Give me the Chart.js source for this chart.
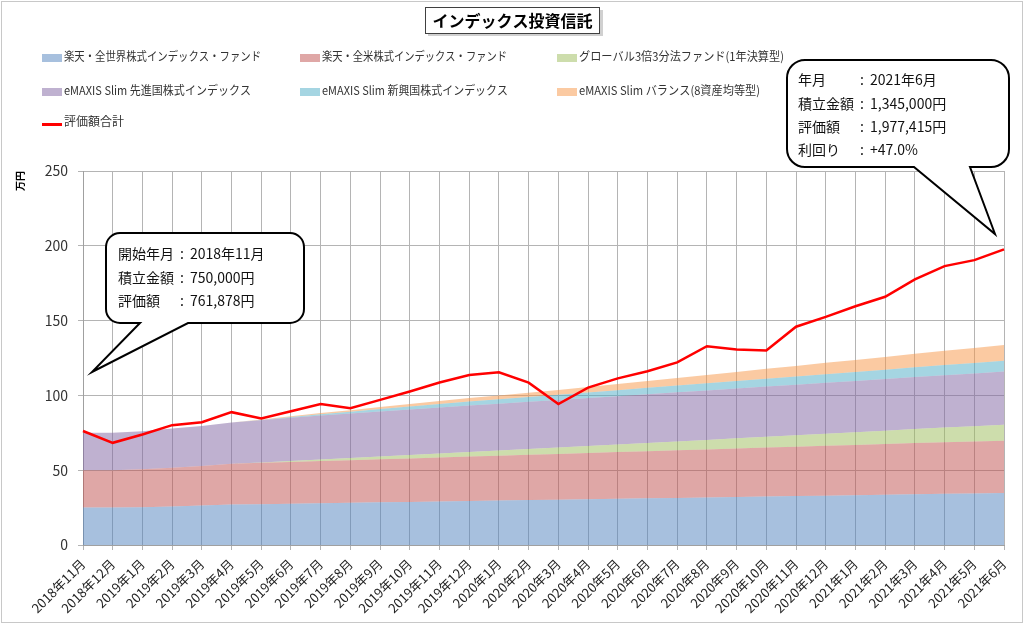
<!DOCTYPE html>
<html lang="ja">
<head>
<meta charset="utf-8">
<title>インデックス投資信託</title>
<script src="https://cdn.jsdelivr.net/npm/chart.js@4.4.1/dist/chart.umd.min.js"></script>
<style>
  html, body { margin: 0; padding: 0; background: #fff; }
  #wrap { width: 1024px; height: 625px; position: relative; }
</style>
</head>
<body>
<div id="wrap"><canvas id="fundChart" width="1024" height="625"></canvas></div>
<script>
/* ===== データ (単位: 万円) ===== */
const months = [
    '2018年11月', '2018年12月', '2019年1月', '2019年2月', '2019年3月', '2019年4月',
    '2019年5月', '2019年6月', '2019年7月', '2019年8月', '2019年9月', '2019年10月',
    '2019年11月', '2019年12月', '2020年1月', '2020年2月', '2020年3月', '2020年4月',
    '2020年5月', '2020年6月', '2020年7月', '2020年8月', '2020年9月', '2020年10月',
    '2020年11月', '2020年12月', '2021年1月', '2021年2月', '2021年3月', '2021年4月',
    '2021年5月', '2021年6月'
];

const rakutenWorld = [25.0, 25.0, 25.3, 25.8, 26.4, 27.0, 27.3, 27.6, 27.9, 28.2, 28.5, 28.8, 29.1, 29.4, 29.7, 30.0,
                      30.3, 30.6, 30.9, 31.2, 31.5, 31.8, 32.1, 32.4, 32.7, 33.0, 33.3, 33.6, 33.9, 34.2, 34.5, 34.8];
const rakutenUS    = [25.0, 25.0, 25.3, 25.8, 26.4, 27.3, 27.6, 27.9, 28.2, 28.5, 28.8, 29.1, 29.4, 29.7, 30.0, 30.3,
                      30.6, 30.9, 31.2, 31.5, 31.8, 32.1, 32.4, 32.7, 33.0, 33.3, 33.6, 33.9, 34.2, 34.5, 34.7, 34.9];
const global3x     = [0, 0, 0, 0, 0, 0, 0.3, 0.7, 1.0, 1.4, 1.8, 2.2, 2.6, 3.0, 3.4, 3.8,
                      4.2, 4.6, 5.0, 5.5, 5.9, 6.3, 6.8, 7.2, 7.6, 8.0, 8.5, 8.9, 9.4, 9.8, 10.2, 10.7];
const slimDeveloped = [25.0, 25.0, 25.4, 26.2, 26.8, 27.6, 28.2, 28.8, 29.4, 29.8, 30.2, 30.5, 30.8, 31.1, 31.3, 31.6,
                      31.9, 32.1, 32.4, 32.6, 32.9, 33.1, 33.3, 33.6, 33.8, 34.1, 34.3, 34.5, 34.8, 35.0, 35.3, 35.5];
const slimEmerging = [0, 0, 0, 0, 0, 0, 0.2, 0.5, 0.9, 1.2, 1.6, 2.0, 2.4, 2.8, 3.1, 3.3,
                      3.5, 3.8, 4.0, 4.3, 4.5, 4.8, 5.0, 5.3, 5.5, 5.8, 6.0, 6.3, 6.5, 6.8, 7.0, 7.3];
const slimBalance  = [0, 0, 0, 0, 0, 0, 0.3, 0.5, 0.8, 1.0, 1.3, 1.6, 1.9, 2.2, 2.5, 2.8,
                      3.1, 3.6, 4.1, 4.6, 5.1, 5.6, 6.1, 6.6, 7.1, 7.6, 8.0, 8.5, 9.0, 9.5, 10.0, 10.5];
const totalValue   = [76.2, 68.3, 73.9, 80.1, 82.1, 88.8, 84.5, 89.4, 94.3, 91.5, 97.0, 102.6, 108.6, 113.6, 115.4, 108.5,
                      94.2, 105.2, 111.4, 116.1, 122.1, 132.9, 130.7, 130.0, 145.9, 152.5, 159.6, 165.9, 177.5, 186.4, 190.4, 197.6];

const fundLabels = [
    '楽天・全世界株式インデックス・ファンド',
    '楽天・全米株式インデックス・ファンド',
    'グローバル3倍3分法ファンド(1年決算型)',
    'eMAXIS Slim 先進国株式インデックス',
    'eMAXIS Slim 新興国株式インデックス',
    'eMAXIS Slim バランス(8資産均等型)'
];
const totalLabel = '評価額合計';
const yTicks = [0, 50, 100, 150, 200, 250];

const startNote = [['開始年月', '2018年11月'], ['積立金額', '750,000円'], ['評価額', '761,878円']];
const endNote = [['年月', '2021年6月'], ['積立金額', '1,345,000円'], ['評価額', '1,977,415円'], ['利回り', '+47.0%']];

/* ===== スタイル ===== */
const JP = '"Noto Sans CJK JP", "Noto Sans", sans-serif';
const fundColors = [
    'rgba(79, 129, 189, 0.5)',
    'rgba(192, 80, 77, 0.5)',
    'rgba(155, 187, 89, 0.5)',
    'rgba(128, 100, 162, 0.5)',
    'rgba(75, 172, 198, 0.5)',
    'rgba(247, 150, 70, 0.5)'
];
const fundSeries = [rakutenWorld, rakutenUS, global3x, slimDeveloped, slimEmerging, slimBalance];
const GRID = '#b4b4b4';

const datasets = fundSeries.map((vals, i) => ({
    label: fundLabels[i],
    data: vals,
    stack: 'funds',
    fill: i === 0 ? 'origin' : '-1',
    backgroundColor: fundColors[i],
    borderColor: 'rgba(0,0,0,0)',
    borderWidth: 0,
    pointRadius: 0,
    tension: 0,
    order: 0
}));
datasets.push({
    label: totalLabel,
    data: totalValue,
    stack: 'total',
    fill: false,
    borderColor: '#ff0000',
    borderWidth: 2.5,
    pointRadius: 0,
    tension: 0,
    order: -1
});

/* ===== 吹き出し ===== */
function bubble(ctx, l, t, r, b, rad, tailA, tailB, tip) {
    ctx.beginPath();
    ctx.moveTo(l + rad, t);
    ctx.lineTo(r - rad, t);
    ctx.arcTo(r, t, r, t + rad, rad);
    ctx.lineTo(r, b - rad);
    ctx.arcTo(r, b, r - rad, b, rad);
    ctx.lineTo(tailB, b);
    ctx.lineTo(tip[0], tip[1]);
    ctx.lineTo(tailA, b);
    ctx.lineTo(l + rad, b);
    ctx.arcTo(l, b, l, b - rad, rad);
    ctx.lineTo(l, t + rad);
    ctx.arcTo(l, t, l + rad, t, rad);
    ctx.closePath();
    ctx.fillStyle = '#ffffff';
    ctx.fill();
    ctx.lineWidth = 2;
    ctx.strokeStyle = '#000000';
    ctx.stroke();
}

function noteText(ctx, rows, x, colonX, valX, y0, gap) {
    ctx.font = '14px ' + JP;
    ctx.fillStyle = '#111111';
    ctx.textAlign = 'left';
    ctx.textBaseline = 'middle';
    rows.forEach((row, i) => {
        const y = y0 + i * gap;
        ctx.fillText(row[0], x, y);
        ctx.fillText(':', colonX, y);
        ctx.fillText(row[1], valX, y);
    });
}

const decorPlugin = {
    id: 'decor',
    afterDraw(chart) {
        const ctx = chart.ctx;
        ctx.save();

        // 外枠
        ctx.strokeStyle = '#c8c8c8';
        ctx.lineWidth = 1;
        ctx.strokeRect(1.5, 1.5, 1021, 621);

        // タイトル
        ctx.fillStyle = '#d0d0d0';
        ctx.fillRect(428, 10, 175, 26);
        ctx.fillStyle = '#ffffff';
        ctx.fillRect(425.5, 7.5, 174, 26);
        ctx.strokeStyle = '#404040';
        ctx.strokeRect(425.5, 7.5, 174, 26);
        ctx.fillStyle = '#000000';
        ctx.font = 'bold 16px ' + JP;
        ctx.textAlign = 'center';
        ctx.textBaseline = 'middle';
        ctx.fillText('インデックス投資信託', 512.5, 21, 166);

        // 凡例
        const cols = [42, 300, 557];
        const rows = [56, 90, 121];
        const widths = [197, 185, 205, 187, 186, 181, 60];
        ctx.font = '12px ' + JP;
        ctx.textAlign = 'left';
        chart.data.datasets.forEach((ds, i) => {
            const x = cols[i % 3];
            const y = rows[Math.floor(i / 3)];
            if (ds.stack === 'total') {
                ctx.strokeStyle = ds.borderColor;
                ctx.lineWidth = 3;
                ctx.beginPath();
                ctx.moveTo(x, y + 3.5);
                ctx.lineTo(x + 20, y + 3.5);
                ctx.stroke();
            } else {
                ctx.fillStyle = ds.backgroundColor;
                ctx.fillRect(x, y - 2, 20, 8);
            }
            ctx.fillStyle = '#333333';
            ctx.fillText(ds.label, x + 22, y, widths[i]);
        });

        // 縦軸タイトル
        ctx.save();
        ctx.translate(20, 181);
        ctx.rotate(-Math.PI / 2);
        ctx.font = 'bold 10px ' + JP;
        ctx.fillStyle = '#000000';
        ctx.textAlign = 'center';
        ctx.fillText('万円', 0, 0);
        ctx.restore();

        // 吹き出し
        bubble(ctx, 106, 233, 304, 323, 14, 140, 188, [92, 372]);
        noteText(ctx, startNote, 118, 180, 190, 254, 23.5);
        bubble(ctx, 787, 60, 1009, 167, 18, 914, 970, [995, 234]);
        noteText(ctx, endNote, 798, 860, 870, 80, 23.2);

        ctx.restore();
    }
};

new Chart(document.getElementById('fundChart'), {
    type: 'line',
    data: { labels: months, datasets: datasets },
    options: {
        responsive: false,
        animation: false,
        layout: { padding: { top: 171, right: 20, left: 0, bottom: 0 } },
        plugins: {
            legend: { display: false },
            tooltip: { enabled: false },
            title: { display: false }
        },
        scales: {
            x: {
                grid: { color: GRID, tickLength: 5 },
                border: { color: '#a0a0a0' },
                ticks: {
                    autoSkip: false,
                    minRotation: 45,
                    maxRotation: 45,
                    padding: 6,
                    color: '#222222',
                    font: { family: JP, size: 13 }
                },
                afterFit(scale) { scale.height = 80; }
            },
            y: {
                stacked: true,
                min: 0,
                max: 250,
                grid: { color: GRID, tickLength: 5 },
                border: { color: '#a0a0a0' },
                afterBuildTicks(scale) { scale.ticks = yTicks.map(v => ({ value: v })); },
                ticks: {
                    padding: 10,
                    color: '#333333',
                    font: { family: JP, size: 14 }
                },
                afterFit(scale) { scale.width = 83; }
            }
        }
    },
    plugins: [decorPlugin]
});
</script>
</body>
</html>
